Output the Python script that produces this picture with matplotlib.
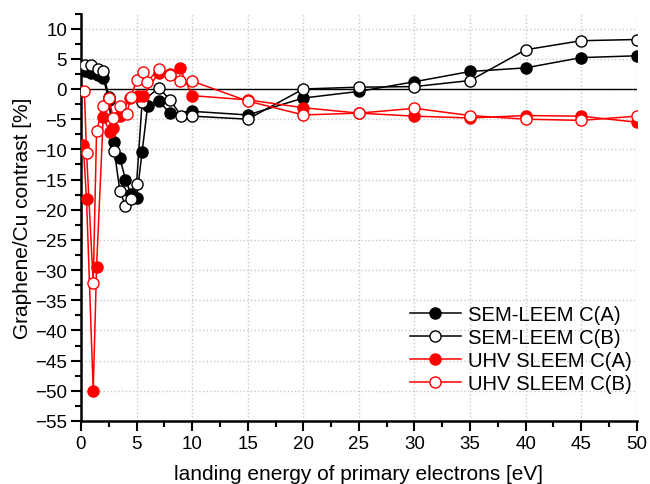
import matplotlib
matplotlib.use("Agg")
import matplotlib.pyplot as plt
from matplotlib.ticker import MultipleLocator

plt.rcParams['font.family'] = ['Liberation Sans', 'DejaVu Sans']

# SEM-LEEM C(A)  (black, filled)
sem_a_x = [0.4, 0.9, 1.5, 2.0, 2.5, 3.0, 3.5, 4.0, 4.5, 5.0, 5.5, 6.0, 7.0, 8.0, 10, 15, 20, 25, 30, 35, 40, 45, 50]
sem_a_y = [3.0, 2.6, 2.3, 1.9, -1.8, -8.7, -11.4, -15.0, -17.4, -18.1, -10.4, -2.8, -2.0, -4.0, -3.7, -4.3, -1.5, -0.4, 1.2, 2.9, 3.5, 5.2, 5.5]

# SEM-LEEM C(B)  (black, open)
sem_b_x = [0.4, 0.9, 1.5, 2.0, 2.5, 3.0, 3.5, 4.0, 4.5, 5.0, 5.5, 7.0, 8.0, 9.0, 10, 15, 20, 25, 30, 35, 40, 45, 50]
sem_b_y = [4.0, 3.9, 3.3, 3.0, -1.4, -10.3, -16.9, -19.4, -18.2, -15.7, -2.1, 0.2, -1.8, -4.4, -4.5, -5.0, 0.0, 0.3, 0.4, 1.4, 6.5, 8.0, 8.2]

# UHV SLEEM C(A)  (red, filled)
uhv_a_x = [0.2, 0.5, 1.1, 1.4, 2.0, 2.6, 2.9, 3.5, 4.4, 5.1, 5.6, 7.0, 8.0, 8.9, 10, 15, 20, 25, 30, 35, 40, 45, 50]
uhv_a_y = [-9.3, -18.3, -50.0, -29.5, -4.7, -7.2, -6.5, -4.5, -1.5, -1.1, -1.1, 2.7, 2.5, 3.4, -1.1, -1.8, -3.1, -4.0, -4.5, -4.8, -4.4, -4.5, -5.5]

# UHV SLEEM C(B)  (red, open)
uhv_b_x = [0.3, 0.5, 1.1, 1.4, 2.0, 2.5, 2.9, 3.5, 4.1, 4.5, 5.0, 5.6, 5.9, 7.0, 8.0, 8.9, 10, 15, 20, 25, 30, 35, 40, 45, 50]
uhv_b_y = [-0.3, -10.6, -32.2, -7.0, -2.8, -1.5, -4.8, -2.9, -4.2, -1.3, 1.5, 2.8, 1.1, 3.3, 2.3, 1.4, 1.3, -2.0, -4.3, -4.0, -3.2, -4.4, -5.0, -5.2, -4.5]

fig = plt.figure(figsize=(6.5, 4.85), dpi=100)
ax = fig.add_axes([0.1246, 0.13, 0.855, 0.84])

ax.axhline(0, color='black', lw=1.0, zorder=2)

ms = 8
ax.plot(sem_a_x, sem_a_y, '-o', color='black', lw=1.1, ms=ms, mfc='black', mec='black',
        label='SEM-LEEM C(A)', zorder=3)
ax.plot(sem_b_x, sem_b_y, '-o', color='black', lw=1.1, ms=ms, mfc='white', mec='black',
        label='SEM-LEEM C(B)', zorder=3)
ax.plot(uhv_a_x, uhv_a_y, '-o', color='red', lw=1.1, ms=ms, mfc='red', mec='red',
        label='UHV SLEEM C(A)', zorder=3)
ax.plot(uhv_b_x, uhv_b_y, '-o', color='red', lw=1.1, ms=ms, mfc='white', mec='red',
        label='UHV SLEEM C(B)', zorder=3)

ax.set_xlim(0, 50)
ax.set_ylim(-55, 12.5)
ax.xaxis.set_major_locator(MultipleLocator(5))
ax.xaxis.set_minor_locator(MultipleLocator(2.5))
ax.yaxis.set_major_locator(MultipleLocator(5))
ax.yaxis.set_minor_locator(MultipleLocator(2.5))

ax.grid(True, which='major', color='#c8c8c8', ls=':', lw=1.0)
ax.spines['top'].set_visible(False)
ax.spines['right'].set_visible(False)
ax.spines['left'].set_linewidth(1.8)
ax.spines['bottom'].set_linewidth(1.8)
ax.tick_params(which='major', direction='out', length=7, width=1.5, labelsize=13.5, pad=3)
ax.tick_params(which='minor', direction='out', length=4, width=1.5)

ax.set_xlabel('landing energy of primary electrons [eV]', fontsize=15, labelpad=9)
ax.set_ylabel('Graphene/Cu contrast [%]', fontsize=15, labelpad=2)

ax.legend(loc='upper left', bbox_to_anchor=(0.574, 0.31), frameon=False, fontsize=14.6,
          borderpad=0, handlelength=2.5, handletextpad=0.35, labelspacing=0.2)

fig.savefig('out.png', dpi=100)
